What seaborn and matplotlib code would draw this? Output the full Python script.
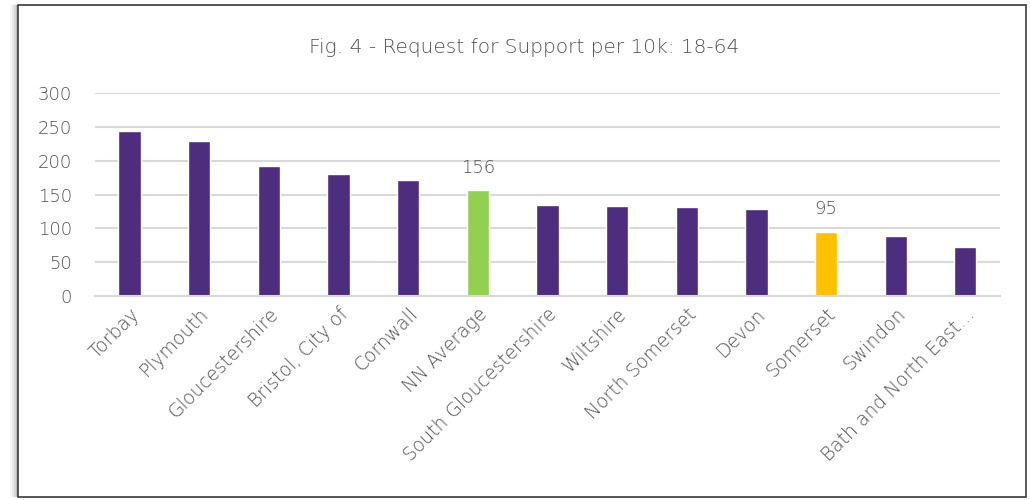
import matplotlib
matplotlib.use("Agg")
import matplotlib.pyplot as plt
from matplotlib.patches import Rectangle
import seaborn as sns
import pandas as pd

# Requests for support per 10k population, ages 18-64
areas = ["Torbay", "Plymouth", "Gloucestershire", "Bristol, City of", "Cornwall",
         "NN Average", "South Gloucestershire", "Wiltshire", "North Somerset",
         "Devon", "Somerset", "Swindon", "Bath and North East…"]
rate = [244, 229, 192, 181, 171, 156, 135, 133, 132, 128, 95, 88, 73]
bar_colors = ["#4E2D7E"] * 5 + ["#92D050"] + ["#4E2D7E"] * 4 + ["#FFC000"] + ["#4E2D7E"] * 2
labelled = ["NN Average", "Somerset"]

df = pd.DataFrame({"area": areas, "rate": rate})

sns.set_theme(style="white")
plt.rcParams["font.family"] = ["DejaVu Sans"]
text_grey = "#505050"
light = "light"

fig = plt.figure(figsize=(10.3, 5.0), dpi=100)
ax = fig.add_axes([0.092, 0.408, 0.879, 0.406])
ax.set_facecolor("none")
ax.set_zorder(2)

sns.barplot(data=df, x="area", y="rate", hue="area", palette=bar_colors,
            order=areas, hue_order=areas, width=0.32, legend=False,
            saturation=1, ax=ax)

ax.set_ylim(0, 300)
ax.set_yticks(range(0, 301, 50))
ax.set_xlim(-0.5, len(areas) - 0.5)
ax.yaxis.grid(True, color="#D9D9D9", linewidth=1.5)
ax.set_axisbelow(True)
for side in ["top", "right", "left"]:
    ax.spines[side].set_visible(False)
ax.spines["bottom"].set_color("#D9D9D9")
ax.spines["bottom"].set_linewidth(1.5)
ax.tick_params(axis="both", length=0, colors=text_grey, labelsize=13)
ax.tick_params(axis="y", pad=16.5)
ax.tick_params(axis="x", pad=6)
ax.set_xlabel("")
ax.set_ylabel("")
for lbl in ax.get_yticklabels():
    lbl.set_fontweight(light)
for lbl in ax.get_xticklabels():
    lbl.set_rotation(45)
    lbl.set_ha("right")
    lbl.set_rotation_mode("anchor")
    lbl.set_fontsize(13.5)
    lbl.set_fontweight(light)

# value labels on highlighted bars
for i, (a, v) in enumerate(zip(areas, rate)):
    if a in labelled:
        ax.annotate(f"{v}", (i, v), xytext=(0, 10), textcoords="offset points",
                    ha="center", va="bottom", color=text_grey, fontsize=13,
                    fontweight=light)

fig.text(0.509, 0.905, "Fig. 4 - Request for Support per 10k: 18-64",
         ha="center", va="center", color=text_grey, fontsize=14.5, zorder=3,
         fontweight=light)

# chart frame with a soft shadow on the left
for k, a in enumerate([0.03, 0.05, 0.08, 0.12]):
    fig.patches.append(Rectangle((0.010 + k * 0.002, 0.006), 0.010, 0.984,
                                 transform=fig.transFigure, facecolor="#000000",
                                 alpha=a, edgecolor="none", zorder=-2))
fig.patches.append(Rectangle((0.0175, 0.006), 0.979, 0.984, transform=fig.transFigure,
                             facecolor="white", edgecolor="#3A3A3A", linewidth=1.2,
                             zorder=-1))

fig.savefig("out.png", dpi=100)
